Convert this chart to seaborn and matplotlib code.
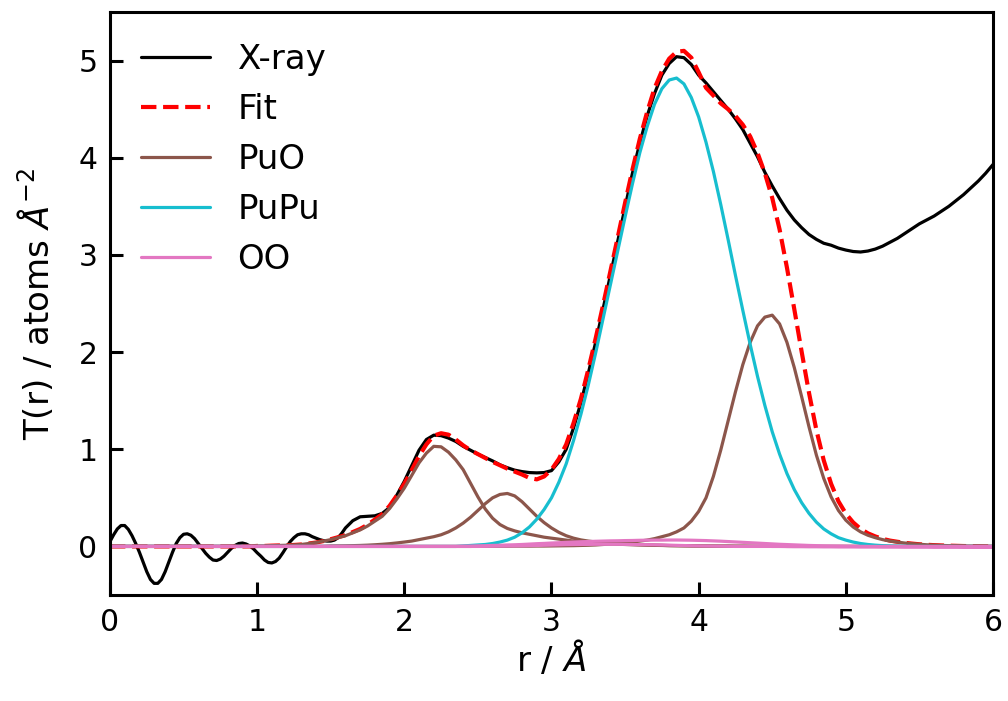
import numpy as np
import matplotlib
matplotlib.use("Agg")
import matplotlib.pyplot as plt
import seaborn as sns

# r grid (Angstrom) for the fitted curves: 0.05 step from 0 to 6
r = np.linspace(0, 6, 121)
# X-ray curve sampled finer (0.025) in the oscillating low-r part
r_xray = np.concatenate([np.linspace(0, 1.6, 65), np.linspace(1.65, 6, 88)])

xray = [
    # 0.000 - 0.575 (0.025 step)
    0.05, 0.12, 0.18, 0.215, 0.215, 0.175, 0.11, 0.03, -0.06, -0.16,
    -0.26, -0.34, -0.38, -0.38, -0.34, -0.26, -0.16, -0.06, 0.03, 0.09,
    0.125, 0.13, 0.115, 0.08,
    # 0.600 - 1.175
    0.03, -0.02, -0.07, -0.11, -0.14, -0.145, -0.13, -0.10, -0.06, -0.02,
    0.01, 0.03, 0.035, 0.025, 0.005, -0.025, -0.065, -0.10, -0.14, -0.165,
    -0.17, -0.155, -0.12, -0.065,
    # 1.200 - 1.600
    -0.005, 0.05, 0.09, 0.12, 0.13, 0.13, 0.12, 0.10, 0.085, 0.07,
    0.06, 0.055, 0.055, 0.065, 0.09, 0.135, 0.19,
    # 1.65 - 1.95 (0.05 step)
    0.265, 0.305, 0.31, 0.315, 0.34, 0.40, 0.53,
    # 2.00 - 6.00
    0.67, 0.83, 0.99, 1.10, 1.145, 1.14, 1.115, 1.08, 1.03, 0.99,
    0.95, 0.915, 0.88, 0.84, 0.81, 0.785, 0.77, 0.76, 0.757, 0.76,
    0.78, 0.87, 1.00, 1.22, 1.48, 1.78, 2.10, 2.44, 2.79, 3.14,
    3.49, 3.84, 4.15, 4.43, 4.66, 4.85, 4.97, 5.04, 5.03, 4.96,
    4.85, 4.77, 4.68, 4.59, 4.50, 4.40, 4.29, 4.15, 4.01, 3.85,
    3.71, 3.58, 3.46, 3.36, 3.28, 3.21, 3.16, 3.12, 3.10, 3.07,
    3.05, 3.035, 3.03, 3.04, 3.06, 3.09, 3.13, 3.17, 3.22, 3.27,
    3.32, 3.36, 3.40, 3.45, 3.50, 3.56, 3.62, 3.69, 3.76, 3.84,
    3.93,
]

fit = [
    0, 0, 0, 0, 0, 0, 0, 0, 0, 0,
    0, 0, 0, 0, 0, 0, 0, 0, 0, 0,
    0.005, 0.005, 0.008, 0.01, 0.012, 0.015, 0.02, 0.03, 0.04, 0.055,
    0.074, 0.095, 0.116, 0.148, 0.18, 0.223, 0.277, 0.332, 0.418, 0.526,
    0.645, 0.785, 0.93, 1.05, 1.14, 1.165, 1.15, 1.10, 1.04, 0.99,
    0.95, 0.91, 0.87, 0.835, 0.80, 0.77, 0.74, 0.705, 0.69, 0.72,
    0.79, 0.90, 1.05, 1.27, 1.52, 1.82, 2.14, 2.48, 2.83, 3.18,
    3.535, 3.876, 4.193, 4.471, 4.714, 4.892, 5.02, 5.09, 5.10, 5.03,
    4.88, 4.72, 4.64, 4.56, 4.50, 4.43, 4.34, 4.22, 4.05, 3.84,
    3.586, 3.262, 2.869, 2.441, 2.003, 1.58, 1.198, 0.886, 0.645, 0.464,
    0.338, 0.247, 0.181, 0.135, 0.103, 0.078, 0.06, 0.048, 0.037, 0.029,
    0.022, 0.017, 0.013, 0.01, 0.008, 0.006, 0.004, 0.003, 0.002, 0.001,
    0,
]

puo_1 = [
    0, 0, 0, 0, 0, 0, 0, 0, 0, 0,
    0, 0, 0, 0, 0, 0, 0, 0, 0, 0,
    0.005, 0.005, 0.008, 0.01, 0.012, 0.015, 0.02, 0.03, 0.04, 0.055,
    0.07, 0.09, 0.11, 0.14, 0.17, 0.21, 0.26, 0.31, 0.39, 0.49,
    0.60, 0.73, 0.86, 0.96, 1.03, 1.025, 0.97, 0.89, 0.79, 0.65,
    0.51, 0.385, 0.29, 0.225, 0.185, 0.16, 0.14, 0.125, 0.11, 0.095,
    0.085, 0.075, 0.065, 0.055, 0.048, 0.042, 0.036, 0.031, 0.027, 0.023,
    0.02, 0.017, 0.015, 0.013, 0.011, 0.01, 0.008, 0.007, 0.006, 0.005,
    0.004, 0.004, 0.003, 0.003, 0.003, 0.002, 0.002, 0.002, 0.001, 0.001,
    0.001, 0.001, 0, 0, 0, 0, 0, 0, 0, 0,
    0, 0, 0, 0, 0, 0, 0, 0, 0, 0,
    0, 0, 0, 0, 0, 0, 0, 0, 0, 0,
    0,
]

puo_2 = [
    0, 0, 0, 0, 0, 0, 0, 0, 0, 0,
    0, 0, 0, 0, 0, 0, 0, 0, 0, 0,
    0, 0, 0, 0, 0, 0, 0, 0, 0, 0,
    0.004, 0.005, 0.006, 0.008, 0.01, 0.013, 0.017, 0.022, 0.028, 0.036,
    0.045, 0.055, 0.07, 0.085, 0.10, 0.12, 0.15, 0.19, 0.24, 0.30,
    0.37, 0.44, 0.50, 0.535, 0.545, 0.52, 0.46, 0.385, 0.31, 0.245,
    0.19, 0.145, 0.11, 0.085, 0.067, 0.055, 0.046, 0.04, 0.034, 0.029,
    0.025, 0.021, 0.018, 0.015, 0.013, 0.011, 0.009, 0.008, 0.007, 0.006,
    0.005, 0.004, 0.004, 0.003, 0.003, 0.002, 0.002, 0.001, 0.001, 0.001,
    0, 0, 0, 0, 0, 0, 0, 0, 0, 0,
    0, 0, 0, 0, 0, 0, 0, 0, 0, 0,
    0, 0, 0, 0, 0, 0, 0, 0, 0, 0,
    0,
]

puo_3 = [
    0, 0, 0, 0, 0, 0, 0, 0, 0, 0,
    0, 0, 0, 0, 0, 0, 0, 0, 0, 0,
    0, 0, 0, 0, 0, 0, 0, 0, 0, 0,
    0, 0, 0, 0, 0, 0, 0, 0, 0, 0,
    0, 0, 0, 0, 0, 0, 0, 0, 0, 0,
    0.001, 0.001, 0.002, 0.002, 0.002, 0.003, 0.003, 0.003, 0.004, 0.004,
    0.005, 0.006, 0.007, 0.008, 0.01, 0.012, 0.015, 0.02, 0.025, 0.03,
    0.04, 0.045, 0.055, 0.065, 0.08, 0.10, 0.12, 0.15, 0.19, 0.26,
    0.36, 0.50, 0.72, 0.99, 1.29, 1.59, 1.87, 2.10, 2.27, 2.36,
    2.38, 2.29, 2.10, 1.84, 1.54, 1.23, 0.94, 0.70, 0.51, 0.37,
    0.27, 0.20, 0.15, 0.115, 0.09, 0.07, 0.055, 0.045, 0.035, 0.028,
    0.022, 0.017, 0.013, 0.01, 0.008, 0.006, 0.004, 0.003, 0.002, 0.001,
    0,
]

pupu = [
    0, 0, 0, 0, 0, 0, 0, 0, 0, 0,
    0, 0, 0, 0, 0, 0, 0, 0, 0, 0,
    0, 0, 0, 0, 0, 0, 0, 0, 0, 0,
    0, 0, 0, 0, 0, 0, 0, 0, 0, 0,
    0, 0, 0, 0, 0, 0, 0, 0, 0.005, 0.01,
    0.015, 0.02, 0.03, 0.045, 0.065, 0.095, 0.14, 0.20, 0.28, 0.38,
    0.50, 0.66, 0.85, 1.09, 1.36, 1.66, 1.99, 2.34, 2.69, 3.04,
    3.39, 3.73, 4.05, 4.32, 4.55, 4.71, 4.80, 4.82, 4.76, 4.62,
    4.42, 4.16, 3.86, 3.52, 3.16, 2.79, 2.43, 2.08, 1.75, 1.45,
    1.18, 0.95, 0.75, 0.585, 0.45, 0.34, 0.25, 0.18, 0.13, 0.09,
    0.065, 0.045, 0.03, 0.02, 0.013, 0.008, 0.005, 0.003, 0.002, 0.001,
    0, 0, 0, 0, 0, 0, 0, 0, 0, 0,
    0,
]

oo_1 = [
    0, 0, 0, 0, 0, 0, 0, 0, 0, 0,
    0, 0, 0, 0, 0, 0, 0, 0, 0, 0,
    0, 0, 0, 0, 0, 0, 0, 0, 0, 0,
    0, 0, 0, 0, 0, 0, 0, 0, 0, 0,
    0, 0, 0, 0, 0, 0, 0, 0, 0.002, 0.003,
    0.005, 0.007, 0.01, 0.012, 0.015, 0.017, 0.02, 0.024, 0.028, 0.031,
    0.035, 0.038, 0.042, 0.045, 0.048, 0.05, 0.053, 0.055, 0.057, 0.058,
    0.06, 0.061, 0.063, 0.064, 0.065, 0.065, 0.066, 0.066, 0.065, 0.064,
    0.062, 0.06, 0.057, 0.054, 0.05, 0.046, 0.042, 0.038, 0.034, 0.03,
    0.026, 0.022, 0.019, 0.016, 0.013, 0.01, 0.008, 0.006, 0.005, 0.004,
    0.003, 0.002, 0.001, 0, 0, 0, 0, 0, 0, 0,
    0, 0, 0, 0, 0, 0, 0, 0, 0, 0,
    0,
]

oo_2 = [
    0, 0, 0, 0, 0, 0, 0, 0, 0, 0,
    0, 0, 0, 0, 0, 0, 0, 0, 0, 0,
    0, 0, 0, 0, 0, 0, 0, 0, 0, 0,
    0, 0, 0, 0, 0, 0, 0, 0, 0, 0,
    0, 0, 0, 0, 0, 0, 0, 0, 0, 0,
    0, 0.001, 0.002, 0.003, 0.004, 0.005, 0.006, 0.008, 0.01, 0.012,
    0.014, 0.016, 0.018, 0.019, 0.02, 0.021, 0.022, 0.022, 0.022, 0.022,
    0.021, 0.02, 0.019, 0.018, 0.017, 0.015, 0.013, 0.011, 0.009, 0.007,
    0.005, 0.004, 0.003, 0.002, 0.001, 0, 0, 0, 0, 0,
    0, 0, -0.001, -0.002, -0.002, -0.003, -0.003, -0.004, -0.004, -0.005,
    -0.005, -0.005, -0.006, -0.006, -0.006, -0.007, -0.007, -0.007, -0.008, -0.008,
    -0.008, -0.008, -0.009, -0.009, -0.009, -0.009, -0.01, -0.01, -0.01, -0.01,
    -0.01,
]

x_ticks = [0, 1, 2, 3, 4, 5, 6]
y_ticks = [0, 1, 2, 3, 4, 5]

sns.set_theme(style="ticks")
plt.rcParams['font.family'] = ['DejaVu Sans']
plt.rcParams['mathtext.fontset'] = 'dejavusans'
for k in ['text.color', 'axes.labelcolor', 'xtick.color', 'ytick.color',
          'axes.edgecolor']:
    plt.rcParams[k] = 'black'

fig = plt.figure(figsize=(10.08, 7.01), dpi=100)
ax = fig.add_axes([0.1091, 0.1512, 0.8760, 0.8317])

kw = dict(ax=ax, sort=False, estimator=None)
sns.lineplot(x=r_xray, y=xray, color='black', linewidth=2.3, label='X-ray', **kw)
sns.lineplot(x=r, y=fit, color='red', linewidth=3.0, linestyle='--', label='Fit', **kw)
sns.lineplot(x=r, y=puo_1, color='#8c564b', linewidth=2.3, label='PuO', **kw)
sns.lineplot(x=r, y=puo_2, color='#8c564b', linewidth=2.3, **kw)
sns.lineplot(x=r, y=puo_3, color='#8c564b', linewidth=2.3, **kw)
sns.lineplot(x=r, y=pupu, color='#17becf', linewidth=2.3, label='PuPu', **kw)
sns.lineplot(x=r, y=oo_1, color='#e377c2', linewidth=2.3, label='OO', **kw)
sns.lineplot(x=r, y=oo_2, color='#e377c2', linewidth=2.3, **kw)

ax.set_xlim(0, 6)
ax.set_ylim(-0.5, 5.5)
ax.set_xticks(x_ticks)
ax.set_yticks(y_ticks)
ax.tick_params(direction='in', length=9.5, width=2.2, labelsize=21.5,
               top=False, right=False, color='black', labelcolor='black', pad=9)
for s in ax.spines.values():
    s.set_linewidth(2.2)
    s.set_color('black')

ax.set_xlabel(r'r / $\AA$', fontsize=24.5, labelpad=2)
ax.set_ylabel(r'T(r) / atoms $\AA^{-2}$', fontsize=24.5, labelpad=16)

ax.legend(loc='upper left', frameon=False, fontsize=24.5,
          handlelength=2.05, handletextpad=0.8)

fig.savefig('out.png', dpi=100)
